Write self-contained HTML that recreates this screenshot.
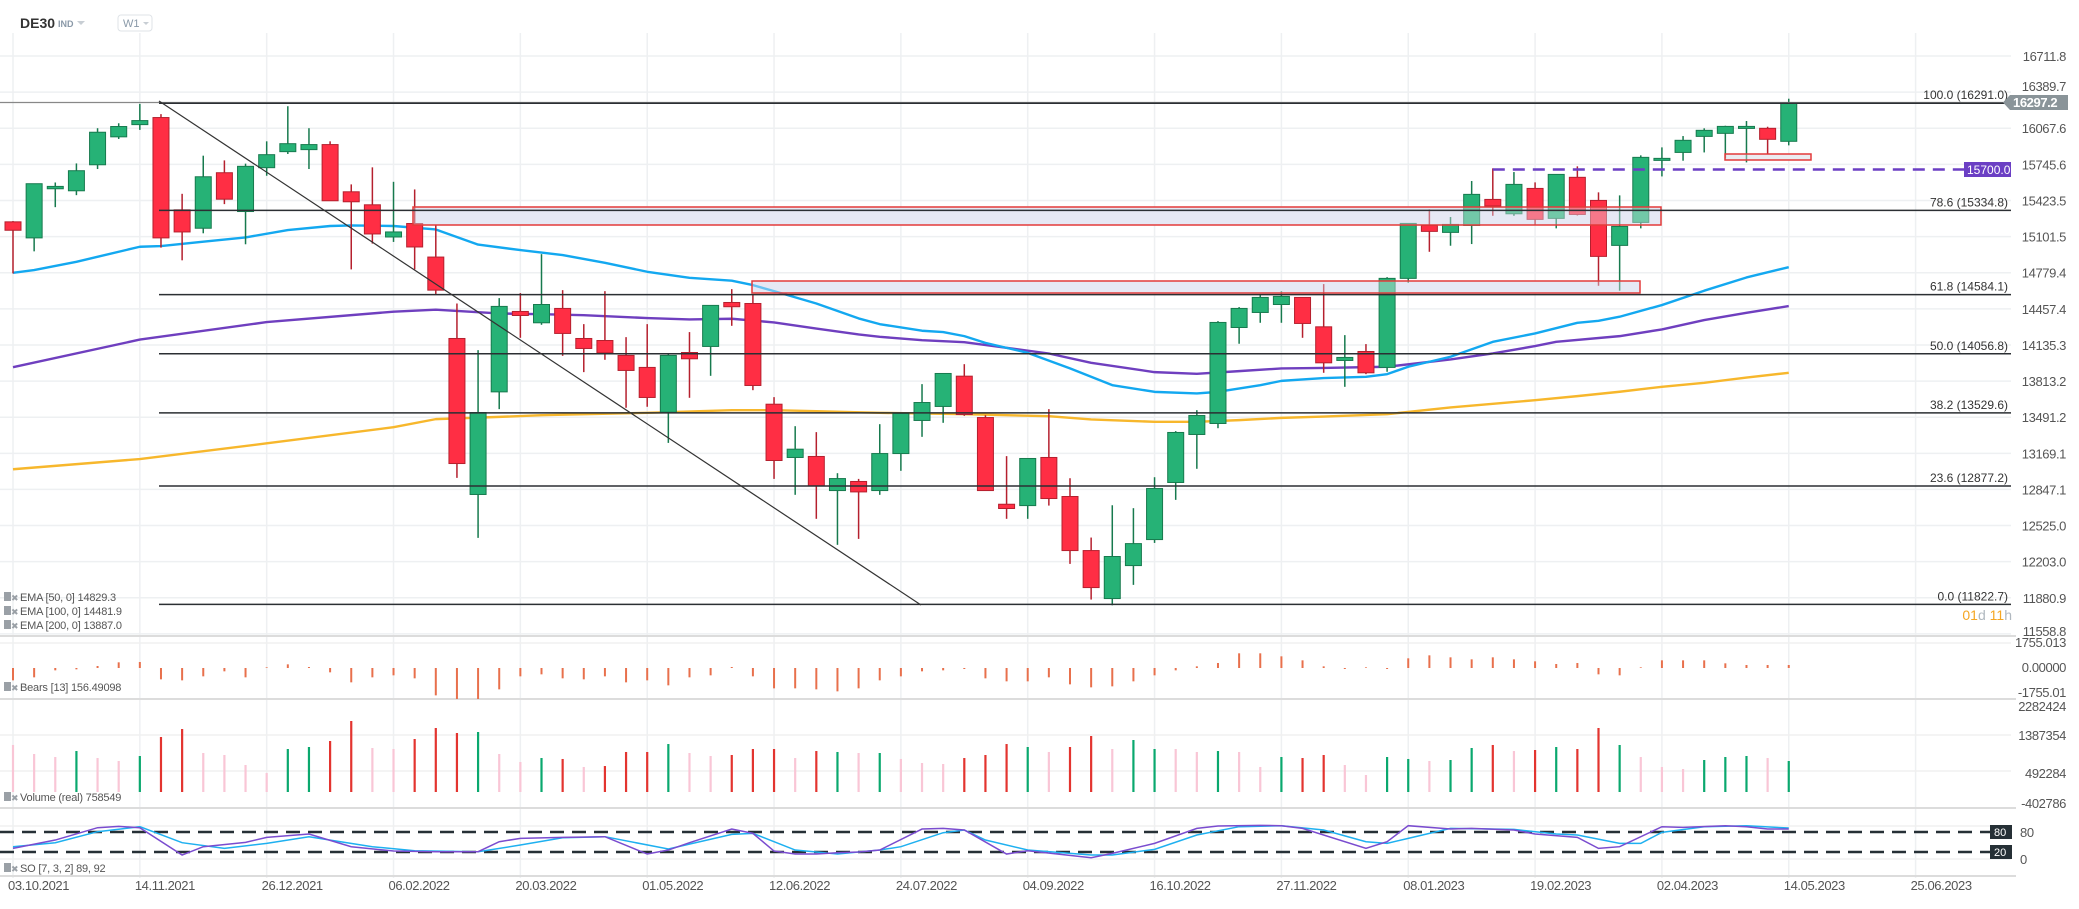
<!DOCTYPE html>
<html><head><meta charset="utf-8"><style>
html,body{margin:0;padding:0;background:#fff;width:2079px;height:909px;overflow:hidden}
svg{display:block;font-family:"Liberation Sans",sans-serif}
</style></head><body>
<svg id="chart" width="2079" height="909" viewBox="0 0 2079 909" xmlns="http://www.w3.org/2000/svg">
<g id="grid"></g>
<g id="zonesUnder"></g>
<g id="emas"></g>
<g id="candles"></g>
<g id="zonesOver"></g>
<g id="fib"></g>
<g id="ind"></g>
<g id="axes"></g>
<g>
<text x="20" y="28" font-size="14" font-weight="bold" fill="#333">DE30</text>
<text x="58" y="27" font-size="9" font-weight="bold" fill="#8a99a8">IND</text>
<path d="M77 21 L85 21 L81 25 Z" fill="#c8ced4"/>
<rect x="118" y="15" width="34" height="16" rx="3" fill="#fff" stroke="#dfe3e7"/>
<text x="123" y="27" font-size="11" fill="#8a99a8">W1</text>
<path d="M143 22 L149 22 L146 25 Z" fill="#c8ced4"/>
</g>
</svg>
<script>
const NS="http://www.w3.org/2000/svg";
const dates=["03.10.2021","14.11.2021","26.12.2021","06.02.2022","20.03.2022","01.05.2022","12.06.2022","24.07.2022","04.09.2022","16.10.2022","27.11.2022","08.01.2023","19.02.2023","02.04.2023","14.05.2023","25.06.2023"];
const priceTicks=[16711.8,16389.7,16067.6,15745.6,15423.5,15101.5,14779.4,14457.4,14135.3,13813.2,13491.2,13169.1,12847.1,12525.0,12203.0,11880.9,11558.8];
const opens=[15233,15090,15528,15510,15742,15991,16100,16163,15340,15176,15671,15325,15716,15859,15877,15922,15501,15385,15098,15218,14919,14193,12802,13717,14434,14333,14461,14193,14175,14042,13935,13536,14068,14122,14514,14505,13607,13132,13141,12837,12918,12837,13167,13462,13587,13857,13488,12715,12703,13132,12784,12302,11874,12168,12400,12909,13337,13435,14291,14425,14496,14559,14297,13997,14077,13935,14729,15201,15139,15201,15433,15305,15531,15264,15630,15424,15023,15228,15781,15852,15995,16022,16066,16067,15951];
const highs=[15240,15573,15584,15754,16068,16112,16285,16193,15483,15823,15781,15752,15951,16264,16068,15951,15567,15719,15590,15522,15206,14505,14089,14553,14598,14945,14624,14321,14615,14205,14321,14053,14250,14488,14633,14586,13670,13411,13358,12992,12941,13429,13524,13786,13881,13964,13509,13144,13123,13563,12947,12418,12706,12680,12956,13367,13554,14348,14473,14580,14615,14559,14678,14223,14143,14740,15219,15344,15276,15597,15710,15677,15585,15656,15728,15496,15469,15826,15897,15998,16067,16090,16132,16081,16331];
const lows=[14773,14970,15364,15471,15704,15972,16053,15003,14890,15131,15391,15033,15644,15838,15704,15421,14809,15039,15054,14809,14590,12950,12415,13563,14199,14315,14038,13893,14003,13575,13584,13262,13664,13860,14306,13732,12941,12799,12585,12353,12406,12799,13013,13316,13441,13503,12837,12585,12585,12703,12183,11865,11814,11996,12370,12754,13031,13393,14146,14333,14333,14199,13887,13762,13875,13896,14690,14966,15020,15035,15287,15287,15204,15175,15290,14663,14619,15175,15638,15778,15852,15799,15763,15838,15915];
const closes=[15158,15573,15549,15689,16032,16083,16136,15090,15143,15635,15435,15728,15832,15930,15922,15421,15412,15125,15143,15009,14624,13078,13533,14479,14398,14496,14238,14104,14065,13908,13667,14042,14012,14488,14476,13774,13105,13206,12879,12944,12825,13167,13524,13622,13881,13515,12837,12677,13123,12766,12302,11972,12249,12364,12855,13355,13506,14336,14461,14559,14568,14327,13976,14024,13887,14729,15219,15148,15210,15478,15374,15567,15255,15656,15299,14925,15192,15808,15799,15960,16049,16084,16084,15969,16297];
const ema50Idx=[0,1,3,6,7,9,11,13,15,16,18,20,22,24,26,28,30,32,34,35,36,38,40,41,43,44,45,46,48,50,52,54,56,57,59,60,62,64,65,66,68,70,72,74,75,76,78,80,82,84];
const ema50Val=[14779,14803,14877,15011,15017,15056,15094,15160,15196,15201,15196,15165,15030,14981,14937,14868,14788,14734,14708,14669,14615,14505,14372,14321,14262,14250,14214,14154,14065,13926,13777,13717,13703,13717,13777,13815,13840,13851,13875,13941,14030,14163,14238,14333,14351,14387,14491,14619,14737,14829];
const ema100Idx=[0,6,12,18,20,23,25,27,30,32,34,36,38,40,41,43,45,47,49,51,54,56,58,60,62,65,68,70,72,73,76,78,80,82,84];
const ema100Val=[13937,14183,14339,14432,14450,14416,14410,14401,14375,14363,14369,14336,14282,14229,14208,14178,14160,14110,14059,13976,13893,13878,13902,13926,13930,13941,14006,14060,14125,14163,14214,14274,14357,14422,14482];
const ema200Idx=[0,6,12,18,20,23,25,30,34,36,38,41,45,49,51,54,56,58,60,62,65,68,72,74,76,78,80,82,84];
const ema200Val=[13027,13118,13258,13402,13474,13494,13509,13530,13554,13554,13545,13530,13518,13500,13471,13450,13450,13465,13485,13497,13518,13578,13643,13679,13718,13762,13798,13845,13887];
const bears=[-903,-683,-171,-98,146,415,439,-830,-903,-610,-244,-683,49,268,73,-317,-1049,-683,-537,-756,-2001,-2294,-2294,-1562,-610,-464,-756,-830,-610,-1049,-903,-1269,-683,-537,73,-610,-1488,-1488,-1562,-1708,-1488,-903,-610,-244,-171,-73,-756,-976,-976,-683,-1196,-1415,-1342,-976,-537,-171,122,366,1074,1074,854,561,122,-73,49,-73,708,927,781,634,781,634,488,293,366,-464,-537,49,561,561,561,342,220,220,220];
const volumes=[1169,945,870,1019,845,771,895,1368,1566,970,920,671,472,1069,1119,1268,1765,1094,1069,1318,1591,1467,1492,945,746,845,821,622,646,995,995,1193,970,895,920,1069,1069,845,1019,995,970,970,821,721,696,845,920,1193,1119,995,1119,1392,1069,1293,1069,1069,995,1019,995,622,870,845,920,671,423,870,821,771,796,1094,1169,1019,1044,1119,1069,1591,1169,870,622,572,796,870,895,845,771];
const volKinds="pppgppgrrppppggrrpprrrgppgrprrrgpprrrprgpgppprrrgprrpggppgppgrrppggpggrprgrrgpppgggpg";
const soKIdx=[0,2,4,5,6,8,9,11,12,14,16,18,20,22,23,24,26,28,30,31,32,34,35,36,37,38,39,40,41,43,44,45,47,48,51,52,54,56,57,59,60,61,64,65,66,68,69,71,72,74,75,76,78,79,81,82,83,84];
const soKVal=[31,56,93,97,93,11,36,49,64,74,36,23,21,21,51,61,64,66,14,26,48,89,76,23,14,14,18,20,26,89,91,86,14,24,3,16,46,91,98,100,99,91,31,51,99,89,91,86,74,64,31,36,96,94,99,96,89,89];
const soDIdx=[0,2,4,6,8,10,12,14,17,19,22,24,26,28,31,34,35,37,39,41,42,44,45,46,48,51,52,54,56,58,60,62,64,65,66,68,71,73,74,76,77,78,80,82,84];
const soDVal=[36,48,81,96,48,31,46,66,36,24,21,41,63,66,29,73,76,26,14,26,36,78,86,56,26,11,11,28,71,96,99,86,51,46,61,91,88,74,71,46,46,79,96,99,92];
const fibLevels=[100,78.6,61.8,50,38.2,23.6,0];
const fibPrices=[16291.0,15334.8,14584.1,14056.8,13529.6,12877.2,11822.7];

const X0=13, DX=21.14, PR=2011;
const xAt=i=>X0+DX*i;
const yP=p=>56+(16711.8-p)*0.11215;
const yB=v=>668-v/1755*24;
const yV=v=>792-v/24.864;
const yS=v=>858.7-v/3;
function mk(tag,attrs,parent){const e=document.createElementNS(NS,tag);for(const k in attrs)e.setAttribute(k,attrs[k]);parent.appendChild(e);return e;}
const G=id=>document.getElementById(id);

const grid=G('grid');
priceTicks.forEach(p=>{const l=mk('line',{x1:0,x2:PR,y1:yP(p),y2:yP(p),stroke:'#eef0f2','stroke-width':1.5},grid);

});
dates.forEach((d,k)=>{const x=xAt(k*6);const l=mk('line',{x1:x,x2:x,y1:33,y2:878,stroke:'#eef0f2','stroke-width':1.5},grid);

});
[[643,'#f0f0f0'],[735,'#f0f0f0'],[771,'#f0f0f0'],[826,'#f0f0f0'],[859,'#f0f0f0']].forEach(a=>{const l=mk('line',{x1:0,x2:PR,y1:a[0],y2:a[0],stroke:a[1],'stroke-width':1.5},grid);

});
[636,699,808,876].forEach(y=>{const l=mk('line',{x1:0,x2:2016,y1:y,y2:y,stroke:'#dcdcdc','stroke-width':2},grid);

});

const zones=[[413,207,1661,225,'#e6e8f4'],[752,281,1640,293,'#e6e8f4'],[1725,154,1811,160,'#eeeeee']];
zones.forEach(z=>{const r=mk('rect',{x:z[0],y:z[1],width:z[2]-z[0],height:z[3]-z[1],fill:z[4]},G('zonesUnder'));


const o=mk('rect',{x:z[0],y:z[1],width:z[2]-z[0],height:z[3]-z[1],fill:'rgba(230,232,244,0.4)',stroke:'#e33a3a','stroke-width':1.5},G('zonesOver'));

});

const fib=G('fib');
const cp=mk('line',{x1:0,x2:PR,y1:yP(16297.2),y2:yP(16297.2),stroke:'#888','stroke-width':1.2},fib);


fibLevels.forEach((lv,i)=>{const y=yP(fibPrices[i]);
const l=mk('line',{x1:159,x2:PR,y1:y,y2:y,stroke:'#2b2f33','stroke-width':1.5},fib);


const t=mk('text',{x:2008,y:y-4,'text-anchor':'end','font-size':12,fill:'#333'},fib);
t.textContent=lv.toFixed(1)+' ('+fibPrices[i].toFixed(1)+')';

});
const tl=mk('line',{x1:159,y1:101,x2:921,y2:605,stroke:'#333','stroke-width':1.2},fib);


const dl=mk('line',{x1:xAt(70),x2:1964,y1:yP(15700),y2:yP(15700),stroke:'#6b3fc4','stroke-width':2.5,'stroke-dasharray':'12 8'},fib);



function ema(idx,val,color,name){const pts=idx.map((i,k)=>xAt(i)+','+yP(val[k])).join(' ');
const p=mk('polyline',{points:pts,fill:'none',stroke:color,'stroke-width':2.4,'stroke-linejoin':'round'},G('emas'));

}
ema(ema200Idx,ema200Val,'#f7b72c','ema-200-line');
ema(ema100Idx,ema100Val,'#6f3fbf','ema-100-line');
ema(ema50Idx,ema50Val,'#13a8f0','ema-50-line');

const cg=G('candles');
opens.forEach((o,i)=>{const c=closes[i],up=c>=o,x=xAt(i);
const fill=up?'#26b276':'#ff2e44',st=up?'#177a4e':'#b5202e';
const w=mk('line',{x1:x,x2:x,y1:yP(highs[i]),y2:yP(lows[i]),stroke:st,'stroke-width':1.5},cg);


const t=yP(Math.max(o,c)),b=yP(Math.min(o,c));
const r=mk('rect',{x:x-8,y:t,width:16,height:Math.max(1.5,b-t),fill:fill,stroke:st,'stroke-width':1},cg);

});

const ind=G('ind');
bears.forEach((v,i)=>{const x=xAt(i);const y=Math.min(699,yB(v));
const l=mk('line',{x1:x,x2:x,y1:668,y2:y,stroke:'#e8704c','stroke-width':2},ind);

});
const vc={p:'#f9c6d6',g:'#0aa86e',r:'#e3342f'};
volumes.forEach((v,i)=>{const x=xAt(i);
const l=mk('line',{x1:x,x2:x,y1:792,y2:yV(v),stroke:vc[volKinds[i]],'stroke-width':2.2},ind);

});
[832,852].forEach(y=>{const l=mk('line',{x1:0,x2:1990,y1:y,y2:y,stroke:'#263036','stroke-width':2.5,'stroke-dasharray':'14 8'},ind);

});
const sd=mk('polyline',{points:soDIdx.map((i,k)=>xAt(i)+','+yS(soDVal[k])).join(' '),fill:'none',stroke:'#1eb0f0','stroke-width':1.5},ind);


const sk=mk('polyline',{points:soKIdx.map((i,k)=>xAt(i)+','+yS(soKVal[k])).join(' '),fill:'none',stroke:'#7a4ccf','stroke-width':1.5},ind);



const ax=G('axes');
function txt(x,y,s,opt,name,parent){const t=mk('text',Object.assign({x:x,y:y,'font-size':13,fill:'#555'},opt||{}),parent||ax);t.textContent=s;

return t;}
priceTicks.forEach(p=>{if(p===16389.7||p===11558.8)return;txt(2066,yP(p)+5,p.toFixed(1),{'text-anchor':'end','letter-spacing':'-0.4'},'price-tick-label');});
txt(2066,yP(16389.7)-1,'16389.7',{'text-anchor':'end','letter-spacing':'-0.4'},'price-tick-label');
txt(2066,636,'11558.8',{'text-anchor':'end','letter-spacing':'-0.4'},'price-tick-label');
dates.forEach((d,k)=>txt(xAt(k*6)-5,890,d,{'letter-spacing':'-0.4'},'date-tick-label'));
[['1755.013',647],['0.00000',672],['-1755.01',697],['2282424',711],['1387354',740],['492284',778],['-402786',808],['80',837],['0',864]].forEach(a=>txt(a[0]==='80'||a[0]==='0'?2020:2066,a[1],a[0],{'text-anchor':a[0]==='80'||a[0]==='0'?'start':'end','letter-spacing':'-0.4'},'indicator-tick-label'));
const tag1=mk('path',{d:'M2003 '+yP(16297.2)+' L2010 95 L2068 95 L2068 110 L2010 110 Z',fill:'#8a9499'},ax);


txt(2013,107,'16297.2',{fill:'#fff','font-weight':'bold','letter-spacing':'-0.4'},'current-price-value');
const tag2=mk('rect',{x:1964,y:162,width:47,height:15,fill:'#6b3fc4'},ax);


txt(1967,174,'15700.0',{fill:'#fff','font-size':12},'level-15700-value');
[[832,'80'],[852,'20']].forEach(a=>{const r=mk('rect',{x:1990,y:a[0]-7,width:22,height:14,fill:'#263036'},ax);


txt(1994,a[0]+4,a[1],{fill:'#fff','font-size':11},'stochastic-level-value');});
const tm=txt(2012,620,'',{'text-anchor':'end','font-size':14},'bar-countdown');
tm.innerHTML='<tspan fill="#f5a623">01</tspan><tspan fill="#b0b8bf">d </tspan><tspan fill="#f5a623">11</tspan><tspan fill="#b0b8bf">h</tspan>';
[[601,'EMA [50, 0] 14829.3'],[615,'EMA [100, 0] 14481.9'],[629,'EMA [200, 0] 13887.0'],[691,'Bears [13] 156.49098'],[801,'Volume  (real)  758549'],[872,'SO [7, 3, 2] 89, 92']].forEach(a=>{
const ic=mk('rect',{x:4,y:a[0]-9,width:7,height:9,fill:'#9aa0a6'},ax);


txt(11,a[0],'✖',{'font-size':9,fill:'#9aa0a6'},'legend-remove-icon');
txt(20,a[0],a[1],{'font-size':11,fill:'#555','letter-spacing':'-0.2'},'legend-entry');});
</script>
</body></html>
